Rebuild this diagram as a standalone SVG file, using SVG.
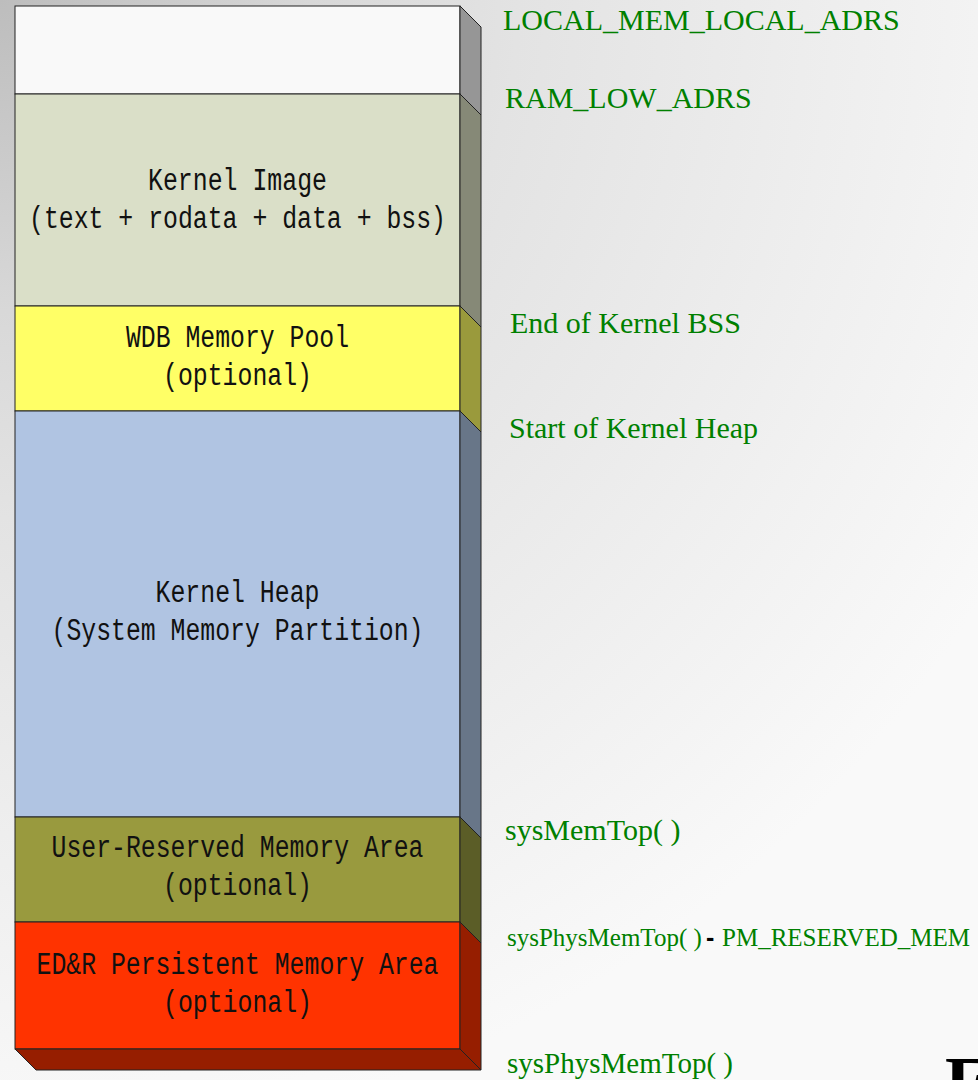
<svg xmlns="http://www.w3.org/2000/svg" width="978" height="1080" viewBox="0 0 978 1080">
  <defs>
    <radialGradient id="bg" gradientUnits="userSpaceOnUse" cx="0" cy="0" r="1150">
      <stop offset="0" stop-color="#BDBDBD"/>
      <stop offset="0.27" stop-color="#D8D8D8"/>
      <stop offset="0.45" stop-color="#E3E3E3"/>
      <stop offset="0.8" stop-color="#F1F1F1"/>
      <stop offset="1" stop-color="#F9F9F9"/>
    </radialGradient>
    <style>
      .face { stroke: #222; stroke-width: 1; stroke-linejoin: miter; }
      .inner { font-family: "Liberation Mono", "DejaVu Sans Mono", monospace; font-size: 31px; fill: #111; text-anchor: middle; }
      .addr { font-family: "Liberation Serif", "Times New Roman", serif; font-size: 30px; fill: #008000; }
    </style>
  </defs>

  <!-- background -->
  <rect x="0" y="0" width="978" height="1080" fill="url(#bg)"/>

  <!-- memory map column: front face + right side face per region -->
  <g id="region-top">
    <rect class="face" x="15" y="6" width="445" height="88" fill="#F9F9F9"/>
    <polygon class="face" points="460,6 481,27 481,115 460,94" fill="#969696"/>
  </g>

  <g id="region-kernel-image">
    <rect class="face" x="15" y="94" width="445" height="212" fill="#DADFC8"/>
    <polygon class="face" points="460,94 481,115 481,327 460,306" fill="#868977"/>
    <text class="inner" x="237.5" y="190" textLength="179" lengthAdjust="spacingAndGlyphs">Kernel Image</text>
    <text class="inner" x="237.5" y="228" textLength="417" lengthAdjust="spacingAndGlyphs">(text + rodata + data + bss)</text>
  </g>

  <g id="region-wdb">
    <rect class="face" x="15" y="306" width="445" height="105" fill="#FFFF66"/>
    <polygon class="face" points="460,306 481,327 481,432 460,411" fill="#9A9A3C"/>
    <text class="inner" x="237.5" y="347" textLength="223" lengthAdjust="spacingAndGlyphs">WDB Memory Pool</text>
    <text class="inner" x="237.5" y="385" textLength="149" lengthAdjust="spacingAndGlyphs">(optional)</text>
  </g>

  <g id="region-kernel-heap">
    <rect class="face" x="15" y="411" width="445" height="406" fill="#B0C4E2"/>
    <polygon class="face" points="460,411 481,432 481,838 460,817" fill="#687688"/>
    <text class="inner" x="237.5" y="602" textLength="164" lengthAdjust="spacingAndGlyphs">Kernel Heap</text>
    <text class="inner" x="237.5" y="640" textLength="372" lengthAdjust="spacingAndGlyphs">(System Memory Partition)</text>
  </g>

  <g id="region-user-reserved">
    <rect class="face" x="15" y="817" width="445" height="105" fill="#999A3E"/>
    <polygon class="face" points="460,817 481,838 481,943 460,922" fill="#5B5D27"/>
    <text class="inner" x="237.5" y="857" textLength="372" lengthAdjust="spacingAndGlyphs">User-Reserved Memory Area</text>
    <text class="inner" x="237.5" y="895" textLength="149" lengthAdjust="spacingAndGlyphs">(optional)</text>
  </g>

  <g id="region-edr">
    <rect class="face" x="15" y="922" width="445" height="127" fill="#FF3300"/>
    <polygon class="face" points="460,922 481,943 481,1070 460,1049" fill="#961E00"/>
    <polygon class="face" points="15,1049 460,1049 481,1070 36,1070" fill="#961E00"/>
    <text class="inner" x="237.5" y="974" textLength="402" lengthAdjust="spacingAndGlyphs">ED&amp;R Persistent Memory Area</text>
    <text class="inner" x="237.5" y="1012" textLength="149" lengthAdjust="spacingAndGlyphs">(optional)</text>
  </g>

  <!-- address labels -->
  <g id="labels">
    <text id="lbl-local-mem" class="addr" x="503" y="30">LOCAL_MEM_LOCAL_ADRS</text>
    <text id="lbl-ram-low" class="addr" x="505" y="108">RAM_LOW_ADRS</text>
    <text id="lbl-end-bss" class="addr" x="510" y="333">End of Kernel BSS</text>
    <text id="lbl-heap-start" class="addr" x="509" y="438">Start of Kernel Heap</text>
    <text id="lbl-memtop" class="addr" x="505" y="840">sysMemTop( )</text>
    <g id="lbl-pm-reserved">
      <text class="addr" x="507" y="946" style="font-size:25px">sysPhysMemTop( )</text>
      <text x="706" y="946" style="font-family:'Liberation Sans',Arial,sans-serif;font-size:25px;font-weight:bold;fill:#000">-</text>
      <text class="addr" x="722" y="946" style="font-size:25px">PM_RESERVED_MEM</text>
    </g>
    <text id="lbl-physmemtop" class="addr" x="507" y="1073" style="font-size:29px">sysPhysMemTop( )</text>
  </g>

  <!-- clipped heading letter at lower right -->
  <text x="945" y="1106" style="font-family:'Liberation Serif','Times New Roman',serif;font-size:72px;font-weight:bold;fill:#000">E</text>
</svg>
